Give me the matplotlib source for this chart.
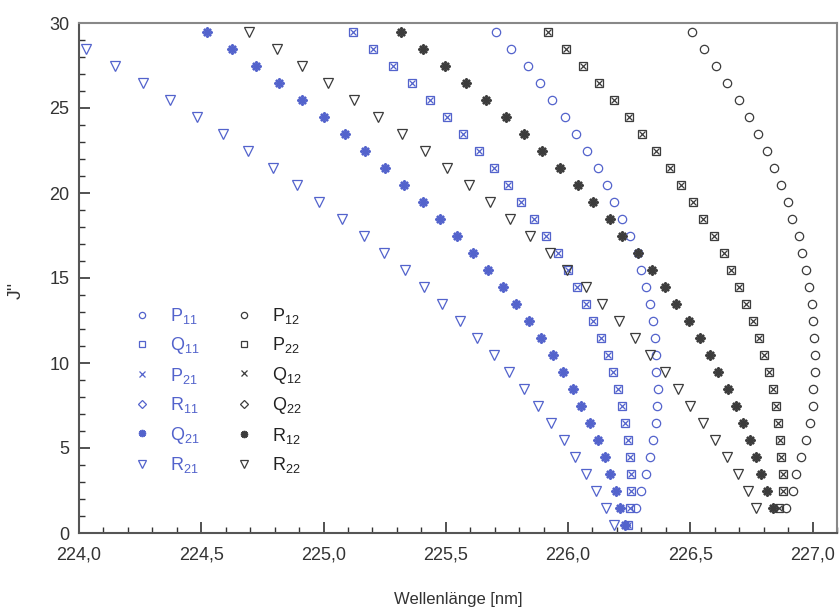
import matplotlib
matplotlib.use('Agg')
import numpy as np
import matplotlib.pyplot as plt
from matplotlib.ticker import MultipleLocator, FuncFormatter

plt.rcParams['font.family'] = ['Liberation Sans', 'DejaVu Sans']
plt.rcParams['mathtext.fontset'] = 'custom'
plt.rcParams['mathtext.rm'] = 'Liberation Sans'
plt.rcParams['mathtext.it'] = 'Liberation Sans'

# J'' Werte
j_f1 = np.arange(29.5, 0, -1.0)      # 29.5 ... 0.5
j_f2 = np.arange(29.5, 1, -1.0)      # 29.5 ... 1.5
j_r21 = np.arange(28.5, 0, -1.0)     # 28.5 ... 0.5

# Wellenlaengen [nm]
# Q11 und P21 fallen zusammen
wl_q11_p21 = [225.121, 225.203, 225.284, 225.360, 225.434, 225.505, 225.571, 225.635,
              225.696, 225.754, 225.809, 225.859, 225.909, 225.959, 226.000, 226.036,
              226.072, 226.102, 226.136, 226.163, 226.184, 226.204, 226.222, 226.235,
              226.245, 226.255, 226.259, 226.259, 226.252, 226.244]
# R11 und Q21 fallen zusammen
wl_r11_q21 = [224.522, 224.624, 224.723, 224.817, 224.910, 225.002, 225.087, 225.169,
              225.251, 225.329, 225.405, 225.475, 225.544, 225.611, 225.671, 225.732,
              225.786, 225.840, 225.888, 225.938, 225.979, 226.020, 226.054, 226.091,
              226.122, 226.150, 226.173, 226.197, 226.214, 226.231]
wl_p11 = [225.704, 225.768, 225.836, 225.884, 225.936, 225.986, 226.034, 226.079,
          226.121, 226.159, 226.190, 226.222, 226.252, 226.286, 226.300, 226.320,
          226.334, 226.347, 226.354, 226.361, 226.361, 226.367, 226.363, 226.358,
          226.347, 226.334, 226.317, 226.300, 226.279]
wl_r21 = [224.029, 224.147, 224.263, 224.372, 224.481, 224.587, 224.692, 224.794,
          224.890, 224.982, 225.076, 225.165, 225.246, 225.332, 225.410, 225.486,
          225.560, 225.628, 225.696, 225.758, 225.820, 225.876, 225.932, 225.982,
          226.027, 226.075, 226.116, 226.157, 226.190]

wl_p12 = [226.508, 226.558, 226.606, 226.649, 226.698, 226.739, 226.776, 226.813,
          226.844, 226.872, 226.899, 226.917, 226.944, 226.958, 226.975, 226.985,
          226.998, 227.001, 227.004, 227.008, 227.008, 227.001, 227.001, 226.990,
          226.974, 226.953, 226.933, 226.919, 226.892]
# P22 und Q12 fallen zusammen
wl_p22_q12 = [225.918, 225.993, 226.061, 226.125, 226.186, 226.249, 226.304, 226.358,
              226.415, 226.460, 226.513, 226.554, 226.596, 226.636, 226.667, 226.701,
              226.729, 226.756, 226.783, 226.803, 226.821, 226.837, 226.851, 226.858,
              226.868, 226.872, 226.878, 226.878, 226.862]
# Q22 und R12 fallen zusammen
wl_q22_r12 = [225.315, 225.407, 225.496, 225.582, 225.663, 225.745, 225.820, 225.895,
              225.969, 226.040, 226.102, 226.170, 226.222, 226.286, 226.344, 226.395,
              226.443, 226.493, 226.538, 226.579, 226.613, 226.653, 226.688, 226.715,
              226.745, 226.770, 226.790, 226.813, 226.837]
wl_r22 = [224.696, 224.808, 224.914, 225.019, 225.124, 225.223, 225.319, 225.414,
          225.505, 225.595, 225.680, 225.764, 225.846, 225.925, 225.994, 226.075,
          226.140, 226.208, 226.272, 226.334, 226.395, 226.449, 226.497, 226.551,
          226.603, 226.649, 226.694, 226.735, 226.770]

blau = '#5363cc'
schwarz = '#3c3c3c'

fig = plt.figure(figsize=(8.4, 6.07), dpi=100)
ax = fig.add_axes([79/840, 1 - 533/607, 758/840, 510/607])

def punkte(x, y, marker, farbe, label, ms=6, mew=0.9, filled=False):
    fc = farbe if filled else 'none'
    h, = ax.plot(x, y, linestyle='none', marker=marker, ms=ms, mew=mew,
                 mec=farbe, mfc=fc, label=label, clip_on=True)
    return h

stern = (8, 2, 0)

h_p11 = punkte(wl_p11, j_f1[:-1], 'o', blau, r'P$_{11}$', ms=6)
h_q11 = punkte(wl_q11_p21, j_f1, 's', blau, r'Q$_{11}$', ms=5.5)
h_p21 = punkte(wl_q11_p21, j_f1, 'x', blau, r'P$_{21}$', ms=5)
h_r11 = punkte(wl_r11_q21, j_f1, 'D', blau, r'R$_{11}$', ms=5.5)
h_q21 = punkte(wl_r11_q21, j_f1, stern, blau, r'Q$_{21}$', ms=7, mew=1.3)
h_r21 = punkte(wl_r21, j_r21, 'v', blau, r'R$_{21}$', ms=7.5)

h_p12 = punkte(wl_p12, j_f2, 'o', schwarz, r'P$_{12}$', ms=6)
h_p22 = punkte(wl_p22_q12, j_f2, 's', schwarz, r'P$_{22}$', ms=5.5)
h_q12 = punkte(wl_p22_q12, j_f2, 'x', schwarz, r'Q$_{12}$', ms=5)
h_q22 = punkte(wl_q22_r12, j_f2, 'D', schwarz, r'Q$_{22}$', ms=5.5)
h_r12 = punkte(wl_q22_r12, j_f2, stern, schwarz, r'R$_{12}$', ms=7, mew=1.3)
h_r22 = punkte(wl_r22, j_f2, 'v', schwarz, r'R$_{22}$', ms=7.5)

handles = [h_p11, h_q11, h_p21, h_r11, h_q21, h_r21,
           h_p12, h_p22, h_q12, h_q22, h_r12, h_r22]
leg = ax.legend(handles=handles, ncol=2, frameon=False, fontsize=13,
                loc='upper left', bbox_to_anchor=(0.042, 0.477),
                handlelength=1.6, handletextpad=0.75, columnspacing=1.7,
                labelspacing=0.52, markerscale=0.75, borderpad=0.4)
for i, t in enumerate(leg.get_texts()):
    t.set_color(blau if i < 6 else '#222222')

ax.set_xlim(224.0, 227.1)
ax.set_ylim(0, 30)
ax.xaxis.set_major_locator(MultipleLocator(0.5))
ax.xaxis.set_minor_locator(MultipleLocator(0.1))
ax.yaxis.set_major_locator(MultipleLocator(5))
ax.yaxis.set_minor_locator(MultipleLocator(1))
ax.xaxis.set_major_formatter(FuncFormatter(lambda v, p: f'{v:.1f}'.replace('.', ',')))

ax.tick_params(which='both', direction='in', top=False, right=False,
               colors='#333333', labelsize=13)
ax.tick_params(which='major', length=8, width=1.2)
ax.tick_params(which='minor', length=4, width=1.0)
ax.tick_params(axis='x', pad=10)
ax.tick_params(axis='y', pad=7)
for s in ax.spines.values():
    s.set_color('#888888')
    s.set_linewidth(1.5)
ax.spines['left'].set_color('#555555')
ax.spines['bottom'].set_color('#555555')

ax.set_xlabel('Wellenlänge [nm]', fontsize=12, color='#333333')
ax.xaxis.set_label_coords(0.5, -0.115)
ax.set_ylabel("J''", fontsize=14, color='#333333')
ax.yaxis.set_label_coords(-0.072, 0.476)

plt.savefig('out.png', dpi=100)
